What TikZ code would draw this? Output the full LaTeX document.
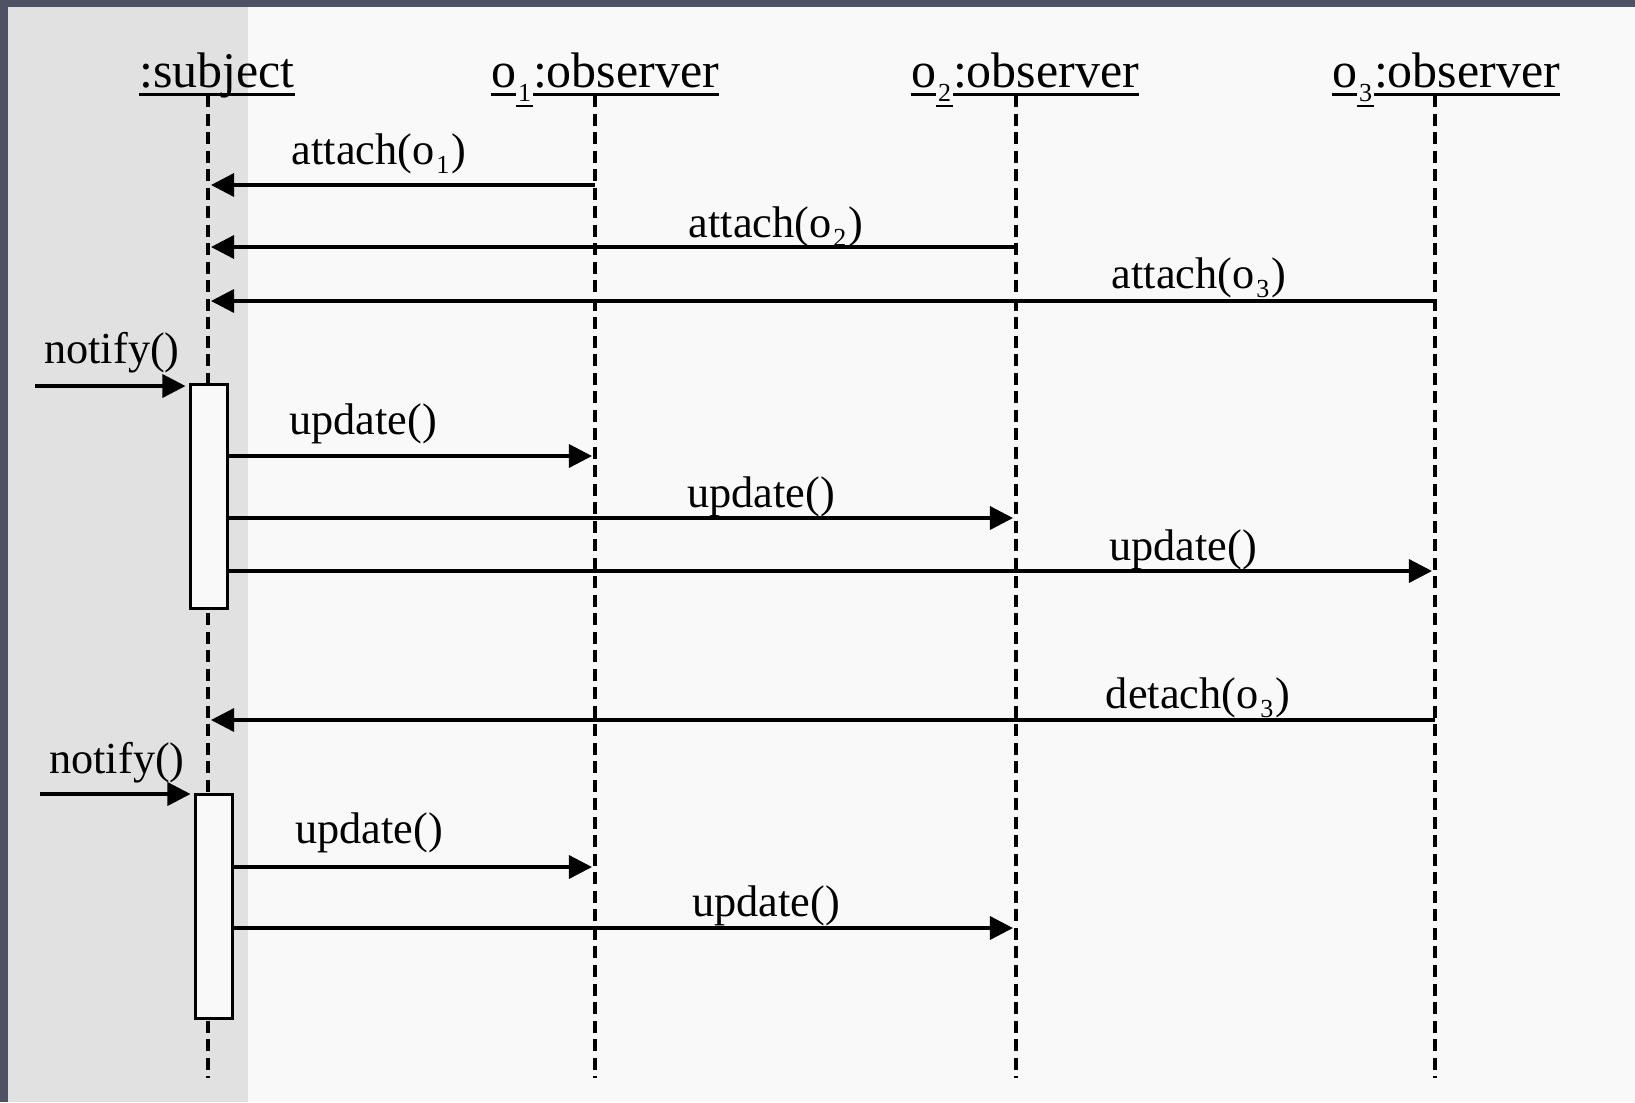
\documentclass[tikz,border=0pt]{standalone}
\usepackage{fontspec}
\setmainfont{Liberation Serif}
\usetikzlibrary{arrows.meta}

\definecolor{frame}{RGB}{79,82,101}
\definecolor{band}{RGB}{225,225,225}
\definecolor{paper}{RGB}{249,249,249}

\newsavebox\ulbox
\newcommand{\ulpart}[2]{\sbox\ulbox{#2}\rlap{\rule[#1]{\wd\ulbox}{0.025cm}}\usebox\ulbox}
\newcommand{\idx}[2]{\raisebox{-#1}{\fontsize{7.4}{7.4}\selectfont\kern0.02cm#2\kern0.02cm}}

\begin{document}
\begin{tikzpicture}[x=0.01cm,y=-0.01cm,
        >={Triangle[length=0.23cm,width=0.23cm]},
        msg/.style={->,line width=0.95pt,shorten >=0.03cm},
        lifeline/.style={line width=1.2pt,dash pattern=on 0.12cm off 0.065cm},
        head/.style={anchor=base,inner sep=0pt,font=\fontsize{14.2}{17}\selectfont},
        lbl/.style={anchor=base,inner sep=0pt,font=\fontsize{12.6}{15}\selectfont},
        activation/.style={draw,line width=0.9pt,fill=paper,anchor=north west,
            minimum width=0.37cm,minimum height=2.24cm,inner sep=0pt}]

  % background
  \fill[frame] (0,0) rectangle (1635,1102);
  \fill[paper] (8,7) rectangle (1635,1102);
  \fill[band] (8,7) rectangle (248,1102);

  % objects
  \node[head] (subj) at (217,87) {\ulpart{-0.0875cm}{:subject}};
  \node[head] (obs1) at (605,87) {\ulpart{-0.0875cm}{o}\ulpart{-0.2025cm}{\idx{0.14cm}{1}}\ulpart{-0.0875cm}{:observer}};
  \node[head] (obs2) at (1025,87) {\ulpart{-0.0875cm}{o}\ulpart{-0.2025cm}{\idx{0.14cm}{2}}\ulpart{-0.0875cm}{:observer}};
  \node[head] (obs3) at (1446,87) {\ulpart{-0.0875cm}{o}\ulpart{-0.2025cm}{\idx{0.14cm}{3}}\ulpart{-0.0875cm}{:observer}};

  \coordinate (ls) at (208,95);
  \coordinate (l1) at (595,95);
  \coordinate (l2) at (1016,95);
  \coordinate (l3) at (1435,95);
  \foreach \l in {ls,l1,l2,l3}
    \draw[lifeline] (\l) -- (\l |- 0,1078);

  \node[activation] (act1) at (188.5,382.5) {};
  \node[activation] (act2) at (193.5,792.5) {};

  % attach
  \draw[msg] (l1 |- 0,185) -- (ls |- 0,185);
  \node[lbl] (att1) at (379,164) {attach(o\idx{0.09cm}{1})};
  \draw[msg] (l2 |- 0,247) -- (ls |- 0,247);
  \node[lbl] (att2) at (776,237) {attach(o\idx{0.09cm}{2})};
  \draw[msg] (l3 |- 0,301) -- (ls |- 0,301);
  \node[lbl] (att3) at (1199,288) {attach(o\idx{0.09cm}{3})};

  % first notify
  \coordinate (in1) at (35,386);
  \draw[msg] (in1) -- (act1.west |- in1);
  \node[lbl] (ntf1) at (112,363) {notify()};
  \draw[msg] (act1.east |- 0,456) -- (l1 |- 0,456);
  \node[lbl] (upd1) at (363,434) {update()};
  \draw[msg] (act1.east |- 0,518) -- (l2 |- 0,518);
  \node[lbl] (upd2) at (761,507) {update()};
  \draw[msg] (act1.east |- 0,571) -- (l3 |- 0,571);
  \node[lbl] (upd3) at (1183,560) {update()};

  % detach
  \draw[msg] (l3 |- 0,720) -- (ls |- 0,720);
  \node[lbl] (det3) at (1198,708) {detach(o\idx{0.09cm}{3})};

  % second notify
  \coordinate (in2) at (40,794);
  \draw[msg] (in2) -- (act2.west |- in2);
  \node[lbl] (ntf2) at (117,773) {notify()};
  \draw[msg] (act2.east |- 0,867) -- (l1 |- 0,867);
  \node[lbl] (upd4) at (369,843) {update()};
  \draw[msg] (act2.east |- 0,928) -- (l2 |- 0,928);
  \node[lbl] (upd5) at (766,916) {update()};

\end{tikzpicture}
\end{document}
